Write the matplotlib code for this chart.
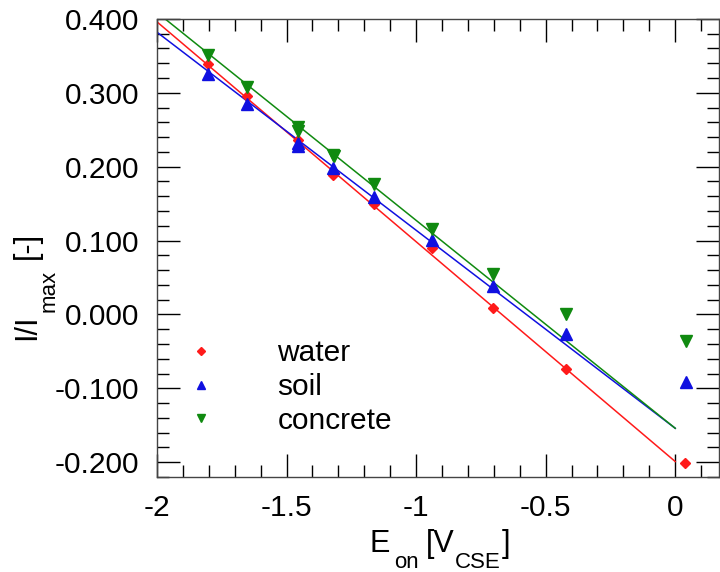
import numpy as np
import matplotlib
matplotlib.use('Agg')
import matplotlib.pyplot as plt
from matplotlib.ticker import MultipleLocator, FormatStrFormatter
from matplotlib.transforms import IdentityTransform

plt.rcParams['font.family'] = ['Liberation Sans', 'DejaVu Sans']
plt.rcParams['axes.unicode_minus'] = False

# measured points
water_x = [-1.803, -1.653, -1.456, -1.322, -1.315, -1.163, -0.939, -0.703, -0.422, 0.037]
water_y = [0.339, 0.295, 0.236, 0.189, 0.191, 0.149, 0.090, 0.009, -0.074, -0.201]

soil_x = [-1.803, -1.653, -1.456, -1.456, -1.320, -1.163, -0.939, -0.703, -0.422, 0.040]
soil_y = [0.326, 0.285, 0.232, 0.228, 0.198, 0.159, 0.101, 0.038, -0.027, -0.092]

concrete_x = [-1.803, -1.653, -1.456, -1.456, -1.322, -1.315, -1.163, -0.939, -0.703, -0.422, 0.040]
concrete_y = [0.351, 0.308, 0.254, 0.248, 0.216, 0.214, 0.176, 0.116, 0.055, 0.000, -0.036]

# linear fits (slope, intercept), drawn from -2 to 0
fit_water = (-0.2975, -0.199)
fit_soil = (-0.268, -0.154)
fit_concrete = (-0.2814, -0.154)

RED, BLUE, GREEN = '#ff1a1a', '#1010e0', '#108a10'
FS = 21.5

fig = plt.figure(figsize=(7.2, 5.72), dpi=100)
ax = fig.add_axes([0.218, 0.166, 0.781, 0.801])

xf = np.linspace(-2, 0, 50)
ax.plot(xf, fit_water[0] * xf + fit_water[1], color=RED, lw=1.1)
ax.plot(xf, fit_soil[0] * xf + fit_soil[1], color=BLUE, lw=1.1)
ax.plot(xf, fit_concrete[0] * xf + fit_concrete[1], color=GREEN, lw=1.1)

ax.plot(water_x, water_y, 'D', color=RED, ms=5.5, ls='none', label='water')
ax.plot(soil_x, soil_y, '^', color=BLUE, ms=8, ls='none', label='soil')
ax.plot(concrete_x, concrete_y, 'v', color=GREEN, ms=8, ls='none', label='concrete')

ax.set_xlim(-2, 0.17)
ax.set_ylim(-0.22, 0.4)
ax.xaxis.set_major_locator(MultipleLocator(0.5))
ax.xaxis.set_minor_locator(MultipleLocator(0.1))
ax.yaxis.set_major_locator(MultipleLocator(0.1))
ax.yaxis.set_minor_locator(MultipleLocator(0.02))
ax.xaxis.set_major_formatter(FormatStrFormatter('%g'))
ax.yaxis.set_major_formatter(FormatStrFormatter('%.3f'))

ax.tick_params(which='both', direction='in', top=True, right=True, labelsize=FS, pad=12.5)
ax.tick_params(which='major', length=16.5, width=1)
ax.tick_params(which='minor', length=8.5, width=1)
for s in ax.spines.values():
    s.set_linewidth(1)
    s.set_color('#444444')

ax.legend(loc='upper left', bbox_to_anchor=(-0.009, 0.36), frameon=False, fontsize=FS,
          handletextpad=1.8, labelspacing=0.2, markerscale=0.75, handlelength=1.5)

# axis labels with lowered subscripts, pieces placed in pixel coords
renderer = fig.canvas.get_renderer()

def rich_label(pieces, x0, y0, vertical=False, center=None):
    # pieces: (text, fontsize, drop_px, gap_after_px)
    widths = []
    for s, size, drop, gap in pieces:
        t = fig.text(0, 0, s, fontsize=size)
        widths.append(t.get_window_extent(renderer).width)
        t.remove()
    total = sum(widths) + sum(p[3] for p in pieces[:-1])
    pos = (center - total / 2) if center is not None else 0
    for (s, size, drop, gap), w in zip(pieces, widths):
        if vertical:
            fig.text(x0 + drop, pos, s, fontsize=size, rotation=90, rotation_mode='anchor',
                     ha='left', va='baseline', transform=IdentityTransform())
        else:
            fig.text(pos, y0 - drop, s, fontsize=size, ha='left', va='baseline',
                     transform=IdentityTransform())
        pos += w + gap

xlabel_parts = [('E', 22, 0, 4), ('on', 16, 16, 7), ('[V', 22, 0, 0), ('CSE', 16, 16, 1), (']', 22, 0, 0)]
ylabel_parts = [('I/I', 22, 0, 3), ('max', 16, 20, 11), ('[-]', 22, 0, 0)]
rich_label(xlabel_parts, 0, 20, center=440)
rich_label(ylabel_parts, 35, 0, vertical=True, center=286)

fig.savefig('out.png', dpi=100)
